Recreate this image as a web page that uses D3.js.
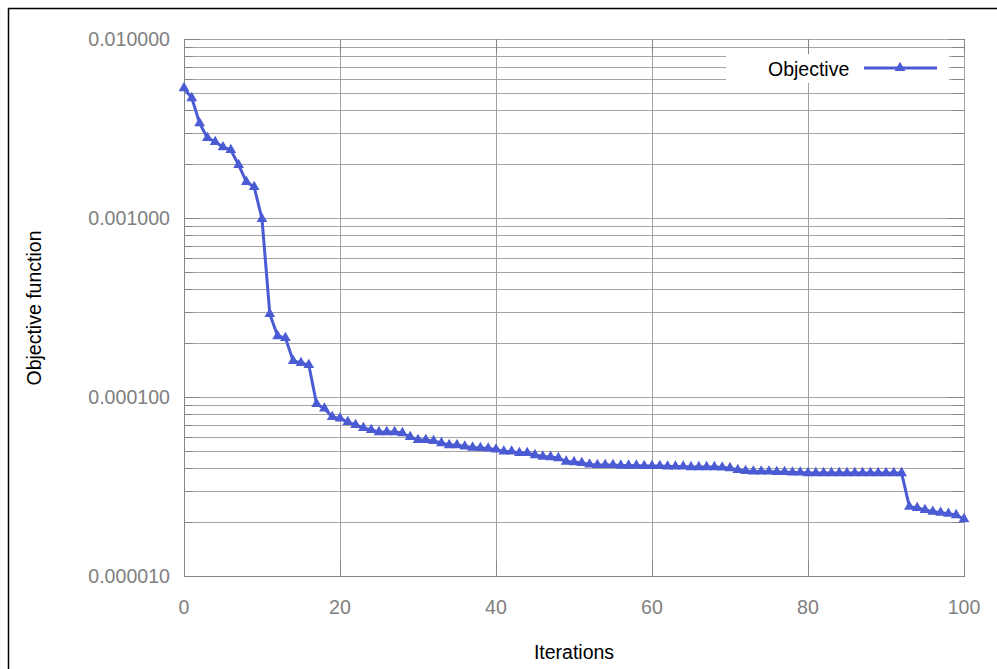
<!DOCTYPE html>
<html>
<head>
<meta charset="utf-8">
<script src="https://cdn.jsdelivr.net/npm/d3@7"></script>
<style>
  body { margin: 0; background: #fff; }
  text { font-family: "Liberation Sans", Arial, sans-serif; }
</style>
</head>
<body>
<script>
// iterations 0..100 and objective value at each one
var iterations = d3.range(0, 101);
var objective = [
  0.00532, 0.00468, 0.00339, 0.00280, 0.00266, 0.00249, 0.00240, 0.00198, 0.00159, 0.00149,
  0.000987, 0.000291, 0.000219, 0.000214, 0.000159, 0.000155, 0.000151, 0.0000914, 0.0000863, 0.0000773,
  0.0000759, 0.0000725, 0.0000698, 0.0000671, 0.0000654, 0.0000637, 0.0000637, 0.0000637, 0.0000629, 0.0000598,
  0.0000575, 0.0000575, 0.0000568, 0.0000553, 0.0000539, 0.0000539, 0.0000529, 0.0000522, 0.0000519, 0.0000516,
  0.0000509, 0.0000496, 0.0000496, 0.0000487, 0.0000487, 0.0000474, 0.0000465, 0.0000462, 0.0000456, 0.0000436,
  0.0000433, 0.0000428, 0.0000420, 0.0000417, 0.0000417, 0.0000417, 0.0000414, 0.0000414, 0.0000414, 0.0000412,
  0.0000412, 0.0000412, 0.0000409, 0.0000409, 0.0000409, 0.0000406, 0.0000406, 0.0000406, 0.0000406, 0.0000404,
  0.0000401, 0.0000391, 0.0000386, 0.0000384, 0.0000384, 0.0000384, 0.0000381, 0.0000381, 0.0000379, 0.0000379,
  0.0000376, 0.0000376, 0.0000376, 0.0000376, 0.0000376, 0.0000376, 0.0000376, 0.0000376, 0.0000376, 0.0000376,
  0.0000376, 0.0000376, 0.0000376, 0.0000244, 0.0000240, 0.0000234, 0.0000229, 0.0000226, 0.0000223, 0.0000219,
  0.0000208
];
var xTicks = [0, 20, 40, 60, 80, 100];
var yMajor = [0.00001, 0.0001, 0.001, 0.01];
var seriesName = "Objective";

function drawChart() {
  var w = 997, h = 669;
  var pl = 184, pr = 964, pt = 39, pb = 576;
  var blue = "#4a5bd4";

  var svg = d3.select("body").append("svg")
    .attr("width", w)
    .attr("height", h);

  svg.append("rect")
    .attr("x", 8.5).attr("y", 8.5)
    .attr("width", 1000).attr("height", 700)
    .attr("fill", "none")
    .attr("stroke", "#000")
    .attr("stroke-width", 1.5);

  var x = d3.scaleLinear().domain([0, 100]).range([pl, pr]);
  var y = d3.scaleLog().domain([1e-5, 1e-2]).range([pb, pt]);

  // minor values 2..9 inside every decade
  var yMinor = [];
  yMajor.slice(0, 3).forEach(function(d) {
    for (var k = 2; k <= 9; k++) yMinor.push(d * k);
  });
  var yAll = yMajor.concat(yMinor);

  var grid = svg.append("g").attr("shape-rendering", "crispEdges");

  grid.selectAll(".hg")
    .data(yAll)
    .enter().append("line")
    .attr("x1", pl).attr("x2", pr)
    .attr("y1", function(d) { return Math.round(y(d)) + 0.5; })
    .attr("y2", function(d) { return Math.round(y(d)) + 0.5; })
    .attr("stroke", "#a4a4a4");

  grid.selectAll(".vg")
    .data(xTicks)
    .enter().append("line")
    .attr("x1", function(d) { return Math.round(x(d)) + 0.5; })
    .attr("x2", function(d) { return Math.round(x(d)) + 0.5; })
    .attr("y1", pt).attr("y2", pb)
    .attr("stroke", "#a0a0a0");

  // legend box sits over the grid
  svg.append("rect")
    .attr("x", 726).attr("y", 54)
    .attr("width", 223).attr("height", 29)
    .attr("fill", "#fff");

  // ticks, drawn darker on every side
  var tk = svg.append("g").attr("stroke", "#858585").attr("shape-rendering", "crispEdges");
  yAll.forEach(function(d) {
    var major = yMajor.indexOf(d) >= 0;
    var yy = Math.round(y(d)) + 0.5;
    tk.append("line").attr("x1", pl).attr("x2", pl + (major ? 16 : 9)).attr("y1", yy).attr("y2", yy);
    tk.append("line").attr("x1", pr).attr("x2", pr - (major ? 16 : 12)).attr("y1", yy).attr("y2", yy);
  });
  xTicks.forEach(function(d) {
    var xx = Math.round(x(d)) + 0.5;
    tk.append("line").attr("x1", xx).attr("x2", xx).attr("y1", pb).attr("y2", pb - 15);
    tk.append("line").attr("x1", xx).attr("x2", xx).attr("y1", pt).attr("y2", pt + 15);
  });
  tk.append("line").attr("x1", pl + 0.5).attr("x2", pl + 0.5).attr("y1", pt).attr("y2", pb + 1);
  tk.append("line").attr("x1", pl).attr("x2", pr + 1).attr("y1", pb + 0.5).attr("y2", pb + 0.5);

  // tick labels
  var fmt = d3.format(".6f");
  svg.append("g").selectAll("text")
    .data(yMajor)
    .enter().append("text")
    .attr("x", 170)
    .attr("y", function(d) { return y(d) + 7; })
    .attr("text-anchor", "end")
    .attr("font-size", "19.6px")
    .attr("fill", "#808080")
    .text(fmt);

  svg.append("g").selectAll("text")
    .data(xTicks)
    .enter().append("text")
    .attr("x", function(d) { return x(d); })
    .attr("y", 614)
    .attr("text-anchor", "middle")
    .attr("font-size", "19.6px")
    .attr("fill", "#808080")
    .text(function(d) { return d; });

  // axis titles
  svg.append("text")
    .attr("x", 574).attr("y", 659)
    .attr("text-anchor", "middle")
    .attr("font-size", "19.5px")
    .text("Iterations");

  svg.append("text")
    .attr("transform", "translate(41,308) rotate(-90)")
    .attr("text-anchor", "middle")
    .attr("font-size", "19.5px")
    .text("Objective function");

  // series
  var pts = iterations.map(function(d, i) { return [d, objective[i]]; });

  svg.append("path")
    .datum(pts)
    .attr("fill", "none")
    .attr("stroke", blue)
    .attr("stroke-width", 3)
    .attr("stroke-linejoin", "round")
    .attr("d", d3.line()
      .x(function(d) { return x(d[0]); })
      .y(function(d) { return y(d[1]); }));

  var tri = d3.symbol().type(d3.symbolTriangle).size(50);

  svg.append("g").selectAll("path")
    .data(pts)
    .enter().append("path")
    .attr("transform", function(d) { return "translate(" + x(d[0]) + "," + y(d[1]) + ")"; })
    .attr("d", tri)
    .attr("fill", blue);

  // legend
  var lg = svg.append("g");
  lg.append("text")
    .attr("x", 768).attr("y", 76)
    .attr("font-size", "19.5px")
    .text(seriesName);
  lg.append("line")
    .attr("x1", 864).attr("x2", 937)
    .attr("y1", 68).attr("y2", 68)
    .attr("stroke", blue)
    .attr("stroke-width", 3);
  lg.append("path")
    .attr("transform", "translate(900,68)")
    .attr("d", tri)
    .attr("fill", blue);
}

drawChart();
</script>
</body>
</html>
